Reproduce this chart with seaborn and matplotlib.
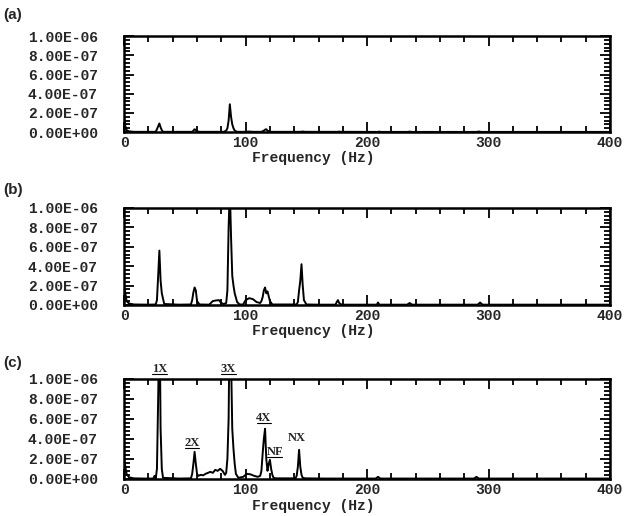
import numpy as np
import pandas as pd
import seaborn as sns
import matplotlib
matplotlib.use("Agg")
import matplotlib.pyplot as plt
from matplotlib.ticker import MultipleLocator, FuncFormatter

# spectra: frequency (Hz) and amplitude (x 1e-7)
freq_a = [0, 1, 2, 4, 8,
          26, 27, 28, 29, 30, 31, 32,
          56, 57, 58, 59, 60, 62,
          82, 84, 85, 86, 87, 88, 89, 90, 91, 93,
          100, 103, 106,
          113, 115, 116, 117, 118, 120,
          145, 147, 149, 176, 177, 178, 209, 210, 211,
          233, 235, 237, 290, 292, 294, 400]
amp_a = [1.5, 0.6, 0.2, 0.08, 0.03,
         0.03, 0.3, 0.6, 0.9, 0.5, 0.2, 0.03,
         0.03, 0.15, 0.3, 0.2, 0.08, 0.03,
         0.03, 0.15, 0.4, 1.2, 2.9, 1.6, 0.8, 0.4, 0.15, 0.03,
         0.03, 0.06, 0.03,
         0.03, 0.15, 0.25, 0.3, 0.15, 0.03,
         0.03, 0.06, 0.03, 0.03, 0.06, 0.03, 0.02, 0.06, 0.02,
         0.02, 0.05, 0.02, 0.02, 0.06, 0.02, 0.02]

freq_b = [0, 1, 2, 4, 8, 20,
          26, 27, 28, 29, 30, 31, 33,
          45,
          55, 56, 57, 58, 59, 60, 62,
          70, 73, 75, 78, 80, 82, 84,
          85, 86, 87, 88, 89, 90, 91, 93, 95,
          98, 100, 103, 106, 109, 112,
          113, 114, 115, 116, 117, 118, 119, 120, 122,
          135, 142, 143, 144, 145, 146, 147, 148, 150,
          160, 174, 175, 176, 177, 179,
          208, 209, 210, 233, 235, 237, 291, 293, 295, 400]
amp_b = [2.0, 1.2, 0.4, 0.15, 0.05, 0.03,
         0.05, 0.5, 3.0, 5.6, 2.5, 1.2, 0.1,
         0.03,
         0.05, 0.5, 1.3, 1.8, 1.5, 0.4, 0.05,
         0.03, 0.4, 0.45, 0.5, 0.2, 0.1, 0.2,
         1.5, 8.0, 12, 7, 3.0, 2.0, 1.2, 0.3, 0.05,
         0.05, 0.5, 0.7, 0.6, 0.3, 0.2,
         0.4, 0.8, 1.5, 1.8, 1.2, 1.4, 0.9, 0.4, 0.05,
         0.05, 0.05, 0.3, 1.5, 2.5, 4.2, 2.0, 0.5, 0.05,
         0.03, 0.03, 0.3, 0.5, 0.2, 0.03,
         0.03, 0.25, 0.03, 0.03, 0.2, 0.03, 0.03, 0.25, 0.03, 0.03]

freq_c = [0, 1, 2, 4, 8, 16,
          24, 25, 26,
          27, 28, 28.5, 29, 29.5, 30, 31, 32,
          45,
          55, 56, 57, 58, 59, 60, 61, 63,
          65, 67, 69, 71, 73, 75, 77, 79, 81, 83, 84,
          85, 86, 86.5, 87, 88, 89, 90, 91, 92, 94,
          98, 101, 104, 107, 110, 112,
          113, 114, 115, 116, 117, 118, 119, 120, 121, 122, 123, 125,
          135, 141, 142, 143, 144, 145, 146, 147, 149,
          165, 207, 209, 211, 288, 290, 292, 400]
amp_c = [2.0, 1.2, 0.5, 0.15, 0.05, 0.03,
         0.03, 0.3, 0.03,
         1.0, 8, 12, 12, 12, 5, 1.0, 0.1,
         0.03,
         0.05, 0.5, 1.5, 2.7, 1.5, 0.5, 0.3, 0.4,
         0.35, 0.5, 0.6, 0.7, 0.6, 0.9, 0.8, 1.0, 0.8, 0.4, 0.6,
         2.0, 6, 12, 12, 12, 5, 3, 1.5, 0.5, 0.1,
         0.2, 0.5, 0.45, 0.3, 0.2, 0.3,
         0.8, 2.5, 4.0, 5.0, 2.0, 0.8, 1.5, 1.9, 1.0, 0.4, 0.1, 0.05,
         0.05, 0.05, 0.3, 1.2, 2.9, 1.2, 0.4, 0.1, 0.05,
         0.03, 0.03, 0.2, 0.03, 0.03, 0.2, 0.03, 0.03]

# harmonic labels on panel (c): text, x (Hz), y (x 1e-7), underlined or not
ann_text = ["1X", "3X", "2X", "4X", "NF", "NX"]
ann_x = [29, 86, 56, 115, 124, 142]
ann_y = [11.0, 11.0, 3.6, 6.1, 2.7, 4.1]
ann_line = [True, True, True, True, True, False]

panel_names = ["(a)", "(b)", "(c)"]
x_ticks = [0, 100, 200, 300, 400]

sns.set_style("ticks")
plt.rcParams["font.family"] = ["Liberation Mono", "DejaVu Sans"]
plt.rcParams["font.weight"] = "bold"

fig = plt.figure(figsize=(6.27, 5.16), dpi=100)
boxes = [[0.198, 0.744, 0.775, 0.186],
         [0.198, 0.409, 0.775, 0.188],
         [0.198, 0.072, 0.775, 0.194]]
label_y = [0.971, 0.632, 0.297]

spectra = [(freq_a, amp_a), (freq_b, amp_b), (freq_c, amp_c)]
for i, (f, a) in enumerate(spectra):
    ax = fig.add_axes(boxes[i])
    df = pd.DataFrame({"freq": f, "amp": np.array(a) * 1e-7})
    sns.lineplot(data=df, x="freq", y="amp", ax=ax, color="black",
                 linewidth=1.4, estimator=None, sort=False)
    ax.set_xlim(0, 400)
    ax.set_ylim(0, 1e-6)
    ax.set_xticks(x_ticks)
    ax.xaxis.set_minor_locator(MultipleLocator(20))
    ax.yaxis.set_major_locator(MultipleLocator(2e-7))
    ax.yaxis.set_minor_locator(MultipleLocator(0.4e-7))
    ax.yaxis.set_major_formatter(FuncFormatter(lambda v, p: "{:.2E}".format(v)))
    ax.tick_params(which="both", direction="in", top=True, right=True,
                   width=1.3, color="black")
    ax.tick_params(which="major", length=7)
    ax.tick_params(which="minor", length=4)
    ax.tick_params(axis="y", which="major", pad=19, labelsize=10.5)
    ax.tick_params(axis="x", which="major", pad=3, labelsize=10.5)
    for s in ax.spines.values():
        s.set_linewidth(1.8)
        s.set_color("black")
    ax.set_ylabel("")
    ax.set_xlabel("Frequency (Hz)", fontsize=10.5, fontweight="bold")
    ax.xaxis.set_label_coords(0.39, -0.20)
    fig.text(0.005, label_y[i], panel_names[i], fontsize=11, fontweight="bold",
             family="Liberation Sans", va="center")

    if i == 2:
        for t, x, y, ul in zip(ann_text, ann_x, ann_y, ann_line):
            ax.text(x, y * 1e-7, t, ha="center", va="center", fontsize=9,
                    fontweight="bold", family="Liberation Serif", clip_on=False)
            if ul:
                ax.plot([x - 6, x + 6], [(y - 0.55) * 1e-7] * 2, color="black",
                        linewidth=0.8, clip_on=False)

fig.savefig("out.png", dpi=100)
